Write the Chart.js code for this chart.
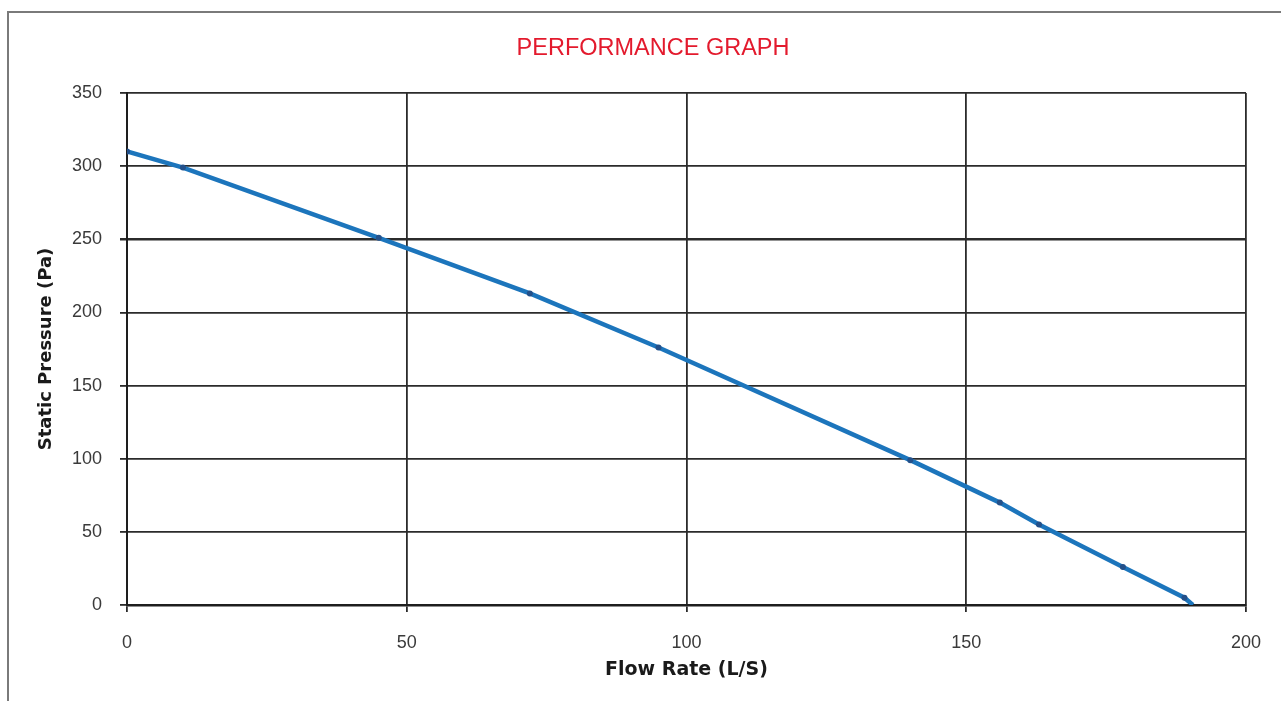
<!DOCTYPE html>
<html>
<head>
<meta charset="utf-8">
<title>Performance Graph</title>
<script src="https://cdn.jsdelivr.net/npm/chart.js@4.4.1/dist/chart.umd.min.js"></script>
<style>
  html, body { margin: 0; padding: 0; background: #fff; overflow: hidden; }
  #frame {
    position: absolute; left: 7px; top: 11px; width: 1300px; height: 720px;
    border-left: 2px solid #7a7a7a; border-top: 2px solid #7a7a7a;
  }
  #wrap { position: absolute; left: 0; top: 0; width: 1281px; height: 701px; }
</style>
</head>
<body>
<div id="frame"></div>
<div id="wrap"><canvas id="myChart" width="1281" height="701"></canvas></div>
<script>
// chart data
var flowRate = [0, 10, 45, 72, 95, 140, 156, 163, 178, 189, 190.5];   // L/S
var staticPressure = [310, 299, 251, 213, 176, 99, 70, 55, 26, 5, 0]; // Pa
var xTicks = [0, 50, 100, 150, 200];
var yTicks = [0, 50, 100, 150, 200, 250, 300, 350];
var chartTitle = 'PERFORMANCE GRAPH';

document.addEventListener('DOMContentLoaded', function () {
  var ctx = document.getElementById('myChart').getContext('2d');

  // red heading, drawn at a fixed spot above the plot
  var titlePlugin = {
    id: 'redTitle',
    afterDraw: function (chart) {
      var c = chart.ctx;
      c.save();
      c.font = '23.5px "Liberation Sans", Arial, sans-serif';
      c.fillStyle = '#e31a2d';
      c.textAlign = 'center';
      c.textBaseline = 'middle';
      c.fillText(chartTitle, 653, 49);
      c.restore();
    }
  };

  var points = flowRate.map(function (x, i) { return { x: x, y: staticPressure[i] }; });

  new Chart(ctx, {
    type: 'scatter',
    data: {
      datasets: [{
        label: 'Static Pressure',
        data: points,
        showLine: true,
        borderColor: '#1c75bc',
        borderWidth: 4.5,
        tension: 0,
        pointBackgroundColor: '#23508a',
        pointBorderWidth: 0,
        pointRadius: function (c) { return c.dataIndex === flowRate.length - 1 ? 0 : 3; }
      }]
    },
    options: {
      responsive: false,
      animation: false,
      layout: { padding: { top: 93, right: 34, bottom: 0, left: 0 } },
      plugins: {
        legend: { display: false },
        tooltip: { enabled: false }
      },
      scales: {
        x: {
          type: 'linear',
          min: 0,
          max: 200,
          afterBuildTicks: function (s) { s.ticks = xTicks.map(function (v) { return { value: v }; }); },
          afterFit: function (s) { s.height = 96; },
          grid: { color: '#2b2b2b', lineWidth: 1.8, tickLength: 7 },
          border: { color: '#1e1e1e', width: 2.5 },
          ticks: {
            padding: 20,
            color: '#3a3a3a',
            font: { family: '"Liberation Sans", Arial, sans-serif', size: 18 }
          },
          title: {
            display: true,
            text: 'Flow Rate (L/S)',
            color: '#1a1a1a',
            padding: { top: 0, bottom: 20 },
            font: { family: '"DejaVu Sans", sans-serif', size: 19, weight: 'bold' }
          }
        },
        y: {
          type: 'linear',
          min: 0,
          max: 350,
          afterBuildTicks: function (s) { s.ticks = yTicks.map(function (v) { return { value: v }; }); },
          afterFit: function (s) { s.width = 127; },
          grid: {
            color: '#2b2b2b',
            tickLength: 7,
            lineWidth: function (c) { return c.tick && c.tick.value === 250 ? 2.5 : 1.8; }
          },
          border: { color: '#1e1e1e', width: 2 },
          ticks: {
            padding: 18,
            color: '#3a3a3a',
            font: { family: '"Liberation Sans", Arial, sans-serif', size: 18 }
          },
          title: {
            display: true,
            text: 'Static Pressure (Pa)',
            color: '#1a1a1a',
            padding: { top: 36, bottom: 0 },
            font: { family: '"DejaVu Sans", sans-serif', size: 18, weight: 'bold' }
          }
        }
      }
    },
    plugins: [titlePlugin]
  });
});
</script>
</body>
</html>
